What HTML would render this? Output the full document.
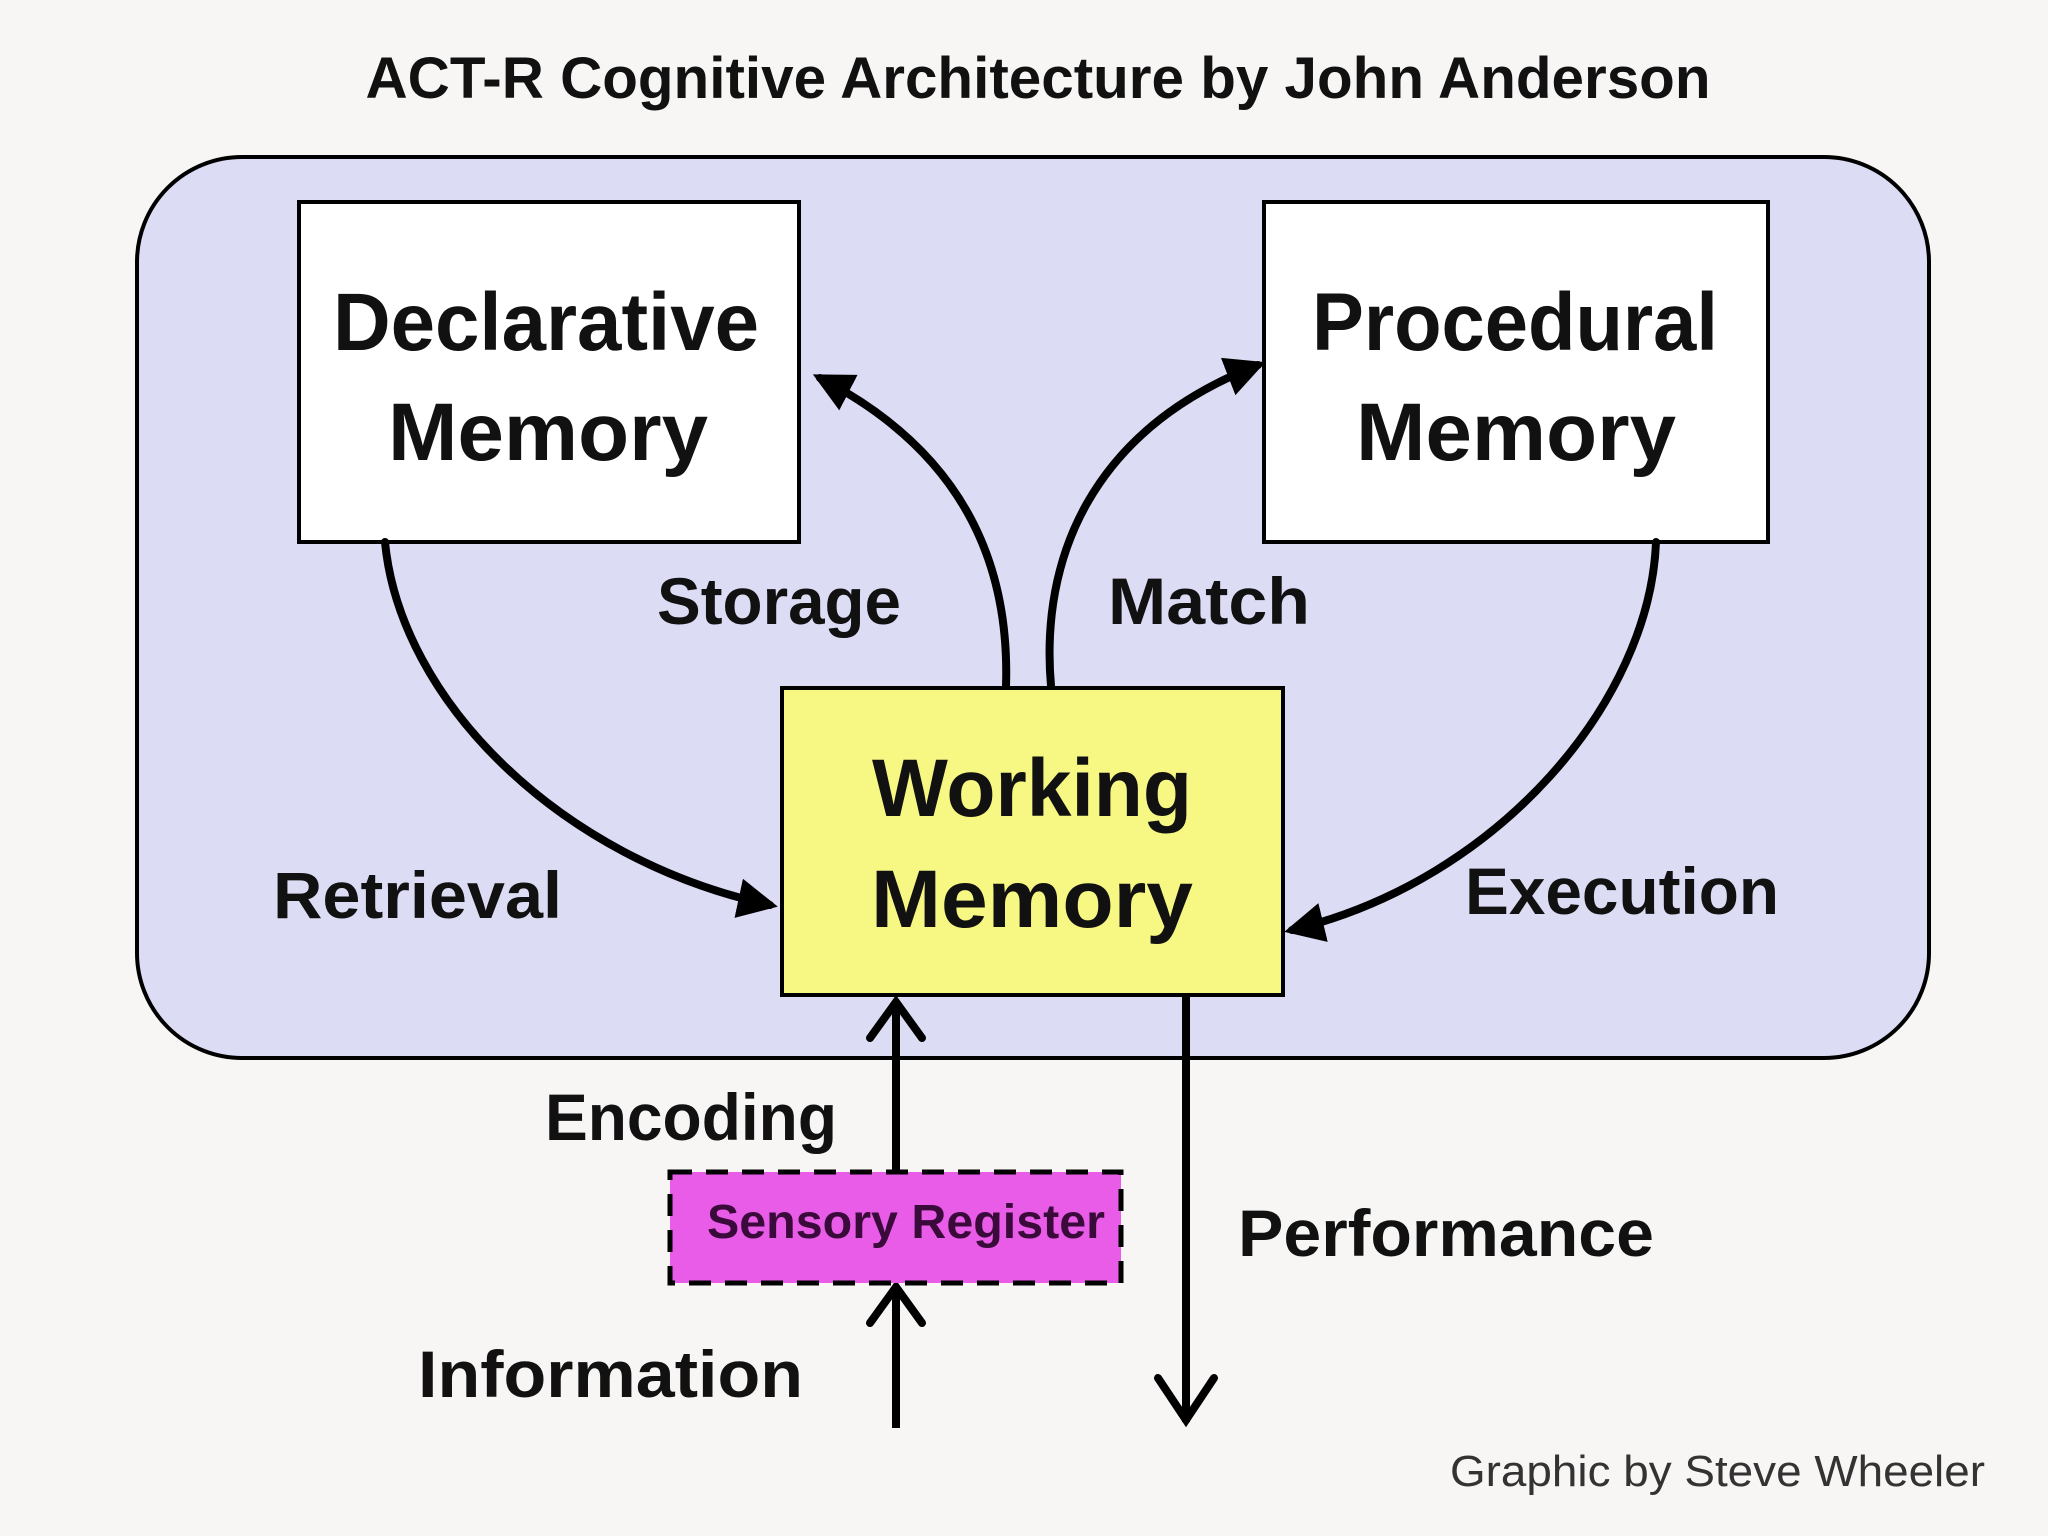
<!DOCTYPE html>
<html><head><meta charset="utf-8"><style>
html,body{margin:0;padding:0;background:#f8f6f5;}
svg{display:block}
text{font-family:"Liberation Sans",sans-serif;font-weight:bold;fill:#111;}
</style></head><body>
<svg width="2048" height="1536" viewBox="0 0 2048 1536" xmlns="http://www.w3.org/2000/svg">
<defs>
<marker id="tri" viewBox="0 0 10 10" refX="8" refY="5" markerWidth="5" markerHeight="5" orient="auto" markerUnits="strokeWidth">
<path d="M0,0 L10,5 L0,10 z" fill="#000"/></marker>
</defs>
<rect width="2048" height="1536" fill="#f8f6f5"/>
<text x="1038" y="98" text-anchor="middle" font-size="58" textLength="1345" lengthAdjust="spacingAndGlyphs">ACT-R  Cognitive Architecture by John Anderson</text>
<rect x="137" y="157" width="1792" height="901" rx="105" fill="#dcdcf5" stroke="#000" stroke-width="4"/>
<rect x="299" y="202" width="500" height="340" fill="#fff" stroke="#000" stroke-width="4"/>
<rect x="1264" y="202" width="504" height="340" fill="#fff" stroke="#000" stroke-width="4"/>
<rect x="782" y="688" width="501" height="307" fill="#f7f783" stroke="#000" stroke-width="4"/>
<text x="546" y="350" text-anchor="middle" font-size="82" textLength="426" lengthAdjust="spacingAndGlyphs">Declarative</text>
<text x="548" y="460" text-anchor="middle" font-size="82" textLength="320" lengthAdjust="spacingAndGlyphs">Memory</text>
<text x="1515" y="350" text-anchor="middle" font-size="82" textLength="406" lengthAdjust="spacingAndGlyphs">Procedural</text>
<text x="1516" y="460" text-anchor="middle" font-size="82" textLength="320" lengthAdjust="spacingAndGlyphs">Memory</text>
<text x="1032" y="816" text-anchor="middle" font-size="82" textLength="320" lengthAdjust="spacingAndGlyphs">Working</text>
<text x="1032" y="927" text-anchor="middle" font-size="82" textLength="322" lengthAdjust="spacingAndGlyphs">Memory</text>
<text x="657" y="624" font-size="66" textLength="244" lengthAdjust="spacingAndGlyphs">Storage</text>
<text x="1108" y="624" font-size="66" textLength="202" lengthAdjust="spacingAndGlyphs">Match</text>
<text x="273" y="918" font-size="66" textLength="289" lengthAdjust="spacingAndGlyphs">Retrieval</text>
<text x="1465" y="914" font-size="66" textLength="314" lengthAdjust="spacingAndGlyphs">Execution</text>
<text x="545" y="1140" font-size="66" textLength="292" lengthAdjust="spacingAndGlyphs">Encoding</text>
<text x="1238" y="1256" font-size="66" textLength="416" lengthAdjust="spacingAndGlyphs">Performance</text>
<text x="418" y="1397" font-size="66" textLength="385" lengthAdjust="spacingAndGlyphs">Information</text>
<g fill="none" stroke="#000" stroke-width="8" stroke-linecap="round">
<path d="M1006 686 C1010 560 960 450 820 378" marker-end="url(#tri)"/>
<path d="M1051 686 C1040 560 1090 430 1258 365" marker-end="url(#tri)"/>
<path d="M385 542 C400 700 560 860 770 905" marker-end="url(#tri)"/>
<path d="M1656 542 C1650 700 1500 880 1292 930" marker-end="url(#tri)"/>
<line x1="896" y1="1172" x2="896" y2="1002" stroke-linecap="butt"/>
<polyline points="870,1038 896,1002 922,1038"/>
<line x1="896" y1="1428" x2="896" y2="1287" stroke-linecap="butt"/>
<polyline points="870,1323 896,1287 922,1323"/>
<line x1="1186" y1="997" x2="1186" y2="1422" stroke-linecap="butt"/>
<polyline points="1158,1378 1186,1420 1214,1378"/>
</g>
<rect x="670" y="1172" width="451" height="111" fill="#e85ce8" stroke="#000" stroke-width="5" stroke-dasharray="22,14"/>
<text x="906" y="1238" text-anchor="middle" font-size="48" fill="#3a0a3a" style="fill:#3a0a3a" textLength="398" lengthAdjust="spacingAndGlyphs">Sensory Register</text>
<text x="1450" y="1486" font-size="44" font-weight="normal" style="font-weight:normal;fill:#333" textLength="535" lengthAdjust="spacingAndGlyphs">Graphic by Steve Wheeler</text>
</svg>
</body></html>
